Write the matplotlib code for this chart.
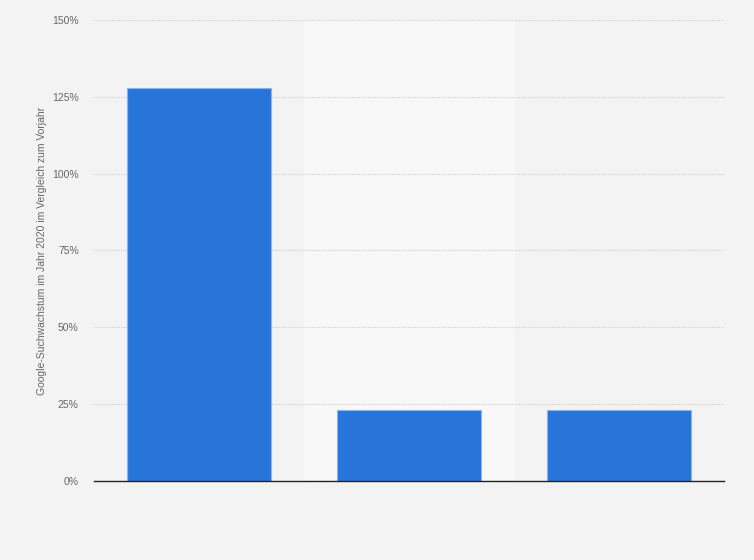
import matplotlib
matplotlib.use("Agg")
import matplotlib.pyplot as plt
from matplotlib.ticker import FuncFormatter

plt.rcParams["font.family"] = ["Liberation Sans", "DejaVu Sans"]

categories = ["A", "B", "C"]
growth = [128, 23, 23]
yticks = [0, 25, 50, 75, 100, 125, 150]

fig = plt.figure(figsize=(7.54, 5.60), dpi=100)
fig.patch.set_facecolor("#f3f3f3")
ax = fig.add_axes([94 / 754, 79 / 560, 630 / 754, 461 / 560])
ax.set_facecolor("#f3f3f3")

x = list(range(len(categories)))
# lighter band behind the middle category
ax.axvspan(0.5, 1.5, color="#f8f8f8", zorder=0)

ax.bar(x, growth, width=0.686, color="#2775d9", edgecolor="#8ab4ec",
       linewidth=0.8, zorder=3)

ax.set_xlim(-0.5, 2.5)
ax.set_ylim(0, 150)
ax.set_yticks(yticks)
ax.yaxis.set_major_formatter(FuncFormatter(lambda v, p: f"{int(v)}%"))
ax.set_xticks([])
ax.grid(axis="y", color="#cfcfcf", linestyle=(0, (1, 1)), linewidth=0.8, zorder=1)
ax.tick_params(axis="y", length=0, labelsize=7.5, labelcolor="#666666", pad=11)

for side in ["top", "right", "left"]:
    ax.spines[side].set_visible(False)
ax.spines["bottom"].set_color("#222222")
ax.spines["bottom"].set_linewidth(1.0)
ax.spines["bottom"].set_zorder(4)

ax.set_ylabel("Google-Suchwachstum im Jahr 2020 im Vergleich zum Vorjahr",
              fontsize=7.5, color="#666666")
ax.yaxis.set_label_coords(-47 / 630, 0.5)

fig.savefig("out.png", dpi=100, facecolor=fig.get_facecolor())
